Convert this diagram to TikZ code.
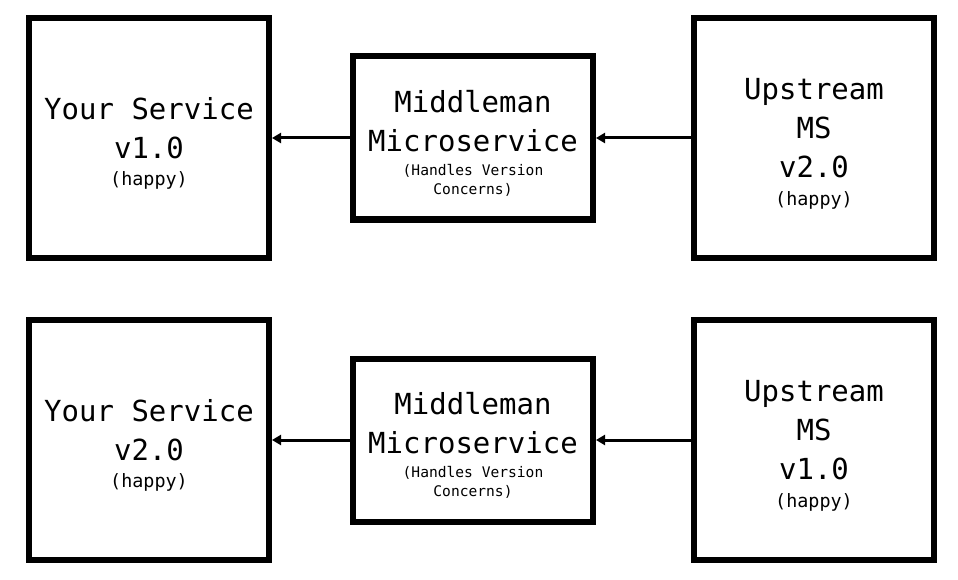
\documentclass[tikz,border=0pt]{standalone}
\usepackage{fontspec}
\setmonofont{DejaVu Sans Mono}
\usetikzlibrary{arrows.meta}

\begin{document}
\begin{tikzpicture}[x=1pt,y=-1pt]
    \tikzset{service/.style = {shape=rectangle, draw, line width=6pt, inner sep=0pt,
        minimum width=240pt, minimum height=240pt, align=center,
        font=\ttfamily\fontsize{29}{39}\selectfont}}
    \tikzset{middleman/.style = {service, minimum height=163pt}}
    \tikzset{edge/.style = {draw, line width=3pt, -{Triangle[length=9pt,width=10pt]}}}
    \newcommand{\lift}{\rule{0pt}{33pt}}
    \newcommand{\happy}{{\fontsize{18.4}{22}\selectfont (happy)}}
    \newcommand{\concern}[1]{{\fontsize{14.6}{18}\selectfont #1}}

    \useasboundingbox (0,0) rectangle (958,580);

    % vertices, top row
    \node[service]   (your1) at (149,138) {\lift Your Service\\v1.0\\[-11.5pt]\happy};
    \node[middleman] (mid1)  at (473,138) {\lift Middleman\\Microservice\\[-15.6pt]\concern{(Handles Version}\\[-19.7pt]\concern{Concerns)}};
    \node[service]   (up1)   at (814,138) {\lift Upstream\\MS\\v2.0\\[-11.5pt]\happy};

    % vertices, bottom row
    \node[service]   (your2) at (149,440) {\lift Your Service\\v2.0\\[-11.5pt]\happy};
    \node[middleman] (mid2)  at (473,440) {\lift Middleman\\Microservice\\[-15.6pt]\concern{(Handles Version}\\[-19.7pt]\concern{Concerns)}};
    \node[service]   (up2)   at (814,440) {\lift Upstream\\MS\\v1.0\\[-11.5pt]\happy};

    % edges
    \draw [edge] (mid1) -- (your1);
    \draw [edge] (up1) -- (mid1);
    \draw [edge] (mid2) -- (your2);
    \draw [edge] (up2) -- (mid2);
\end{tikzpicture}
\end{document}
